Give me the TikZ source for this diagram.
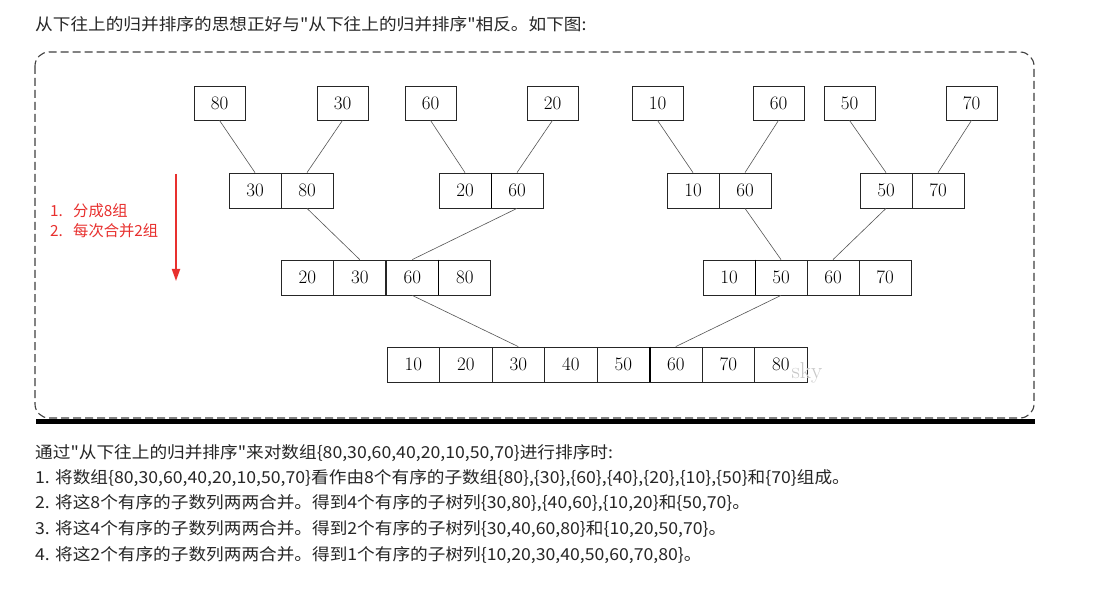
\documentclass[tikz,border=0pt]{standalone}
\usepackage{fontspec}
\newfontfamily\cjk[FakeStretch=1.07]{Noto Sans CJK SC}
\newfontfamily\cjkr{Noto Sans CJK SC}
\usetikzlibrary{arrows.meta}
\definecolor{redtxt}{HTML}{E8302E}
\definecolor{linkgray}{HTML}{555555}
\begin{document}
\begin{tikzpicture}[x=1pt,y=-1pt,
  cell/.style={draw=black!85, line width=0.8pt, minimum width=52.5pt, minimum height=35pt, inner sep=0pt, font=\fontsize{19}{19}\selectfont},
  leaf/.style={cell, minimum width=51pt, minimum height=34pt},
  link/.style={draw=linkgray, line width=0.6pt},
  txt/.style={anchor=west, inner sep=0pt, font=\cjk\fontsize{16.5}{16.5}\selectfont, text=black!85},
  redlab/.style={anchor=west, inner sep=0pt, font=\cjkr\fontsize{15.3}{15.3}\selectfont, text=redtxt}]
\useasboundingbox (0,0) rectangle (1114,596);
\fill[white] (0,0) rectangle (1114,596);
% title
\node[txt] (title) at (35,24) {从下往上的归并排序的思想正好与"从下往上的归并排序"相反。如下图:};
% frame
\draw[black!75, line width=1.1pt, dash pattern=on 8pt off 4pt, rounded corners=14pt] (35,52) rectangle (1034,418);
\draw[black, line width=4.5pt] (36,421.5) -- (1035,421.5);
% row 1
\foreach \n/\x/\v in {t1/219.5/80, t2/342.5/30, t3/430.5/60, t4/552.5/20, t5/657.5/10, t6/778.5/60, t7/849.5/50, t8/971.5/70}
  \node[leaf] (\n) at (\x,103) {\v};
% row 2
\foreach \n/\x/\v in {b1/255/30, b2/307/80, b3/465/20, b4/517/60, b5/693/10, b6/745/60, b7/886/50, b8/938/70}
  \node[cell, minimum width=52pt] (\n) at (\x,190.5) {\v};
% row 3
\foreach \n/\x/\v in {c1/307.25/20, c2/359.75/30, c3/412.25/60, c4/464.75/80, c5/729/10, c6/781/50, c7/833/60, c8/885/70}
  \node[cell, minimum width=52pt] (\n) at (\x,277.5) {\v};
% row 4
\foreach \n/\x/\v in {d1/413.25/10, d2/465.75/20, d3/518.25/30, d4/570.75/40, d5/623.25/50, d6/675.75/60, d7/728.25/70, d8/780.75/80}
  \node[cell] (\n) at (\x,364.5) {\v};
% thicker separators
\draw[black, line width=1.6pt] (b3.north east) -- (b3.south east);
\draw[black, line width=1.6pt] (c3.north east) -- (c3.south east);
\draw[black, line width=1.6pt] (c5.north east) -- (c5.south east);
\draw[black, line width=1.6pt] (d5.north east) -- (d5.south east);
% links
\draw[link] (t1.south) -- (b1.north);
\draw[link] (t2.south) -- (b2.north);
\draw[link] (t3.south) -- (b3.north);
\draw[link] (t4.south) -- (b4.north);
\draw[link] (t5.south) -- (b5.north);
\draw[link] (t6.south) -- (b6.north);
\draw[link] (t7.south) -- (b7.north);
\draw[link] (t8.south) -- (b8.north);
\draw[link] (b2.south) -- (c2.north);
\draw[link] (b4.south) -- (c3.north);
\draw[link] (b6.south) -- (c6.north);
\draw[link] (b7.south) -- (c7.north);
\draw[link] (c3.south) -- (d3.north);
\draw[link] (c6.south) -- (d6.north);
% watermark
\node[inner sep=0pt, text=black!22, font=\fontsize{23}{23}\selectfont] (sky) at (807,373) {sky};
% red annotation
\coordinate (as) at (176,174);
\coordinate (ae) at (176,281);
\draw[redtxt, line width=1.8pt, -{Triangle[length=12pt,width=8pt]}] (as) -- (ae);
\node[redlab] (r1) at (50,211) {1.\ \ \ 分成8组};
\node[redlab] (r2) at (50,231) {2.\ \ \ 每次合并2组};
% bottom text
\node[txt] (l0) at (35,453) {通过"从下往上的归并排序"来对数组\{80,30,60,40,20,10,50,70\}进行排序时:};
\node[txt] (l1) at (35,478) {1. 将数组\{80,30,60,40,20,10,50,70\}看作由8个有序的子数组\{80\},\{30\},\{60\},\{40\},\{20\},\{10\},\{50\}和\{70\}组成。};
\node[txt] (l2) at (35,503.5) {2. 将这8个有序的子数列两两合并。得到4个有序的子树列\{30,80\},\{40,60\},\{10,20\}和\{50,70\}。};
\node[txt] (l3) at (35,529) {3. 将这4个有序的子数列两两合并。得到2个有序的子树列\{30,40,60,80\}和\{10,20,50,70\}。};
\node[txt] (l4) at (35,555) {4. 将这2个有序的子数列两两合并。得到1个有序的子树列\{10,20,30,40,50,60,70,80\}。};
\end{tikzpicture}
\end{document}
